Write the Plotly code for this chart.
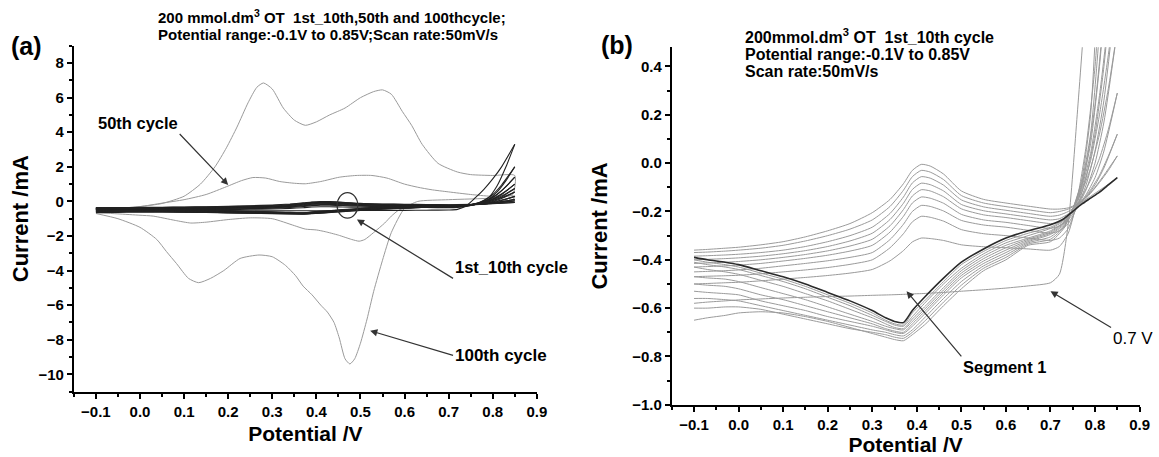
import plotly.graph_objects as go

# ---------------- Panel (a) data ----------------
c100_V = [-0.1, -0.05, 0.0, 0.05, 0.1, 0.137, 0.17, 0.196, 0.22, 0.245, 0.265, 0.28, 0.3, 0.325, 0.35, 0.375,
          0.4, 0.43, 0.465, 0.5, 0.53, 0.55, 0.57, 0.595, 0.616, 0.64, 0.676, 0.72, 0.75, 0.8, 0.85,
          0.845, 0.8, 0.7, 0.63, 0.6, 0.57, 0.55, 0.53, 0.515, 0.5, 0.487, 0.476, 0.465, 0.452, 0.44,
          0.425, 0.41, 0.39, 0.37, 0.353, 0.33, 0.3, 0.27, 0.227, 0.19, 0.16, 0.133, 0.11, 0.083, 0.06,
          0.038, 0.0, -0.05, -0.1]
c100_I = [-0.5, -0.4, -0.3, -0.12, 0.3, 1.0, 2.0, 3.1, 4.3, 5.7, 6.6, 6.85, 6.5, 5.4, 4.7, 4.4,
          4.6, 5.0, 5.4, 6.0, 6.35, 6.45, 6.2, 5.2, 4.4, 3.3, 2.2, 1.7, 1.55, 1.5, 1.5,
          0.4, 0.2, 0.1, 0.0, -0.4, -1.8, -3.4, -5.2, -6.8, -8.2, -9.1, -9.4, -9.1, -7.9, -7.0,
          -6.4, -6.0, -5.4, -4.9, -4.3, -3.7, -3.2, -3.1, -3.3, -4.0, -4.45, -4.7, -4.45, -3.6, -2.9,
          -2.2, -1.5, -1.0, -0.7]

c50_V = [-0.1, -0.05, 0.0, 0.05, 0.1, 0.15, 0.196, 0.23, 0.256, 0.285, 0.317, 0.35, 0.375, 0.41, 0.452,
         0.49, 0.526, 0.56, 0.6, 0.63, 0.66, 0.7, 0.75, 0.795, 0.85,
         0.84, 0.8, 0.75, 0.7, 0.65, 0.6, 0.587, 0.57, 0.555, 0.53, 0.51, 0.497, 0.48, 0.45, 0.42, 0.4,
         0.375, 0.35, 0.3, 0.25, 0.2, 0.15, 0.115, 0.08, 0.03, 0.0, -0.05, -0.1]
c50_I = [-0.45, -0.4, -0.3, -0.1, 0.1, 0.4, 0.85, 1.2, 1.38, 1.35, 1.15, 1.05, 1.02, 1.15, 1.4,
         1.5, 1.5, 1.35, 1.0, 0.82, 0.68, 0.55, 0.4, 0.3, 0.3,
         0.0, -0.1, -0.15, -0.2, -0.3, -0.4, -0.5, -0.85, -1.25, -1.8, -2.2, -2.3, -2.2, -1.95, -1.75, -1.65,
         -1.6, -1.4, -1.0, -0.95, -1.05, -1.2, -1.25, -1.1, -0.85, -0.8, -0.72, -0.65]

# ---------------- 1st-10th cycles (panel b, also drawn in panel a) ----------------
fwd_V = [-0.1, -0.07, -0.03, 0.0, 0.05, 0.1, 0.15, 0.2, 0.25, 0.3, 0.34, 0.37, 0.39, 0.41, 0.43, 0.46,
         0.5, 0.55, 0.6, 0.65, 0.7, 0.72, 0.74, 0.76, 0.78, 0.8, 0.82, 0.85]
rev_V = [0.85, 0.83, 0.81, 0.79, 0.77, 0.75, 0.73, 0.7, 0.65, 0.6, 0.55, 0.5, 0.46, 0.42, 0.39, 0.37,
         0.35, 0.33, 0.3, 0.25, 0.2, 0.15, 0.1, 0.05, 0.0, -0.03, -0.07, -0.1]

segment1_I = [-0.58, -0.575, -0.57, -0.566, -0.562, -0.558, -0.555, -0.552, -0.55, -0.547, -0.545, -0.543,
              -0.541, -0.54, -0.538, -0.535, -0.53, -0.524, -0.517, -0.508, -0.495,
              -0.46, -0.25, 0.2, 0.7, 1.3, 2.0, 3.3]
fwd_cycle2_I = [-0.50, -0.498, -0.495, -0.493, -0.487, -0.48, -0.473, -0.465, -0.455, -0.44, -0.404, -0.362,
                -0.326, -0.31, -0.312, -0.32, -0.338, -0.346, -0.35, -0.355, -0.36,
                -0.345, -0.29, -0.15, 0.07, 0.4, 0.95, 2.0]
fwd_cycle3_I = [-0.47, -0.468, -0.466, -0.464, -0.458, -0.45, -0.442, -0.432, -0.419, -0.40, -0.35, -0.292,
                -0.243, -0.22, -0.224, -0.24, -0.275, -0.292, -0.30, -0.31, -0.32,
                -0.31, -0.27, -0.17, -0.01, 0.24, 0.62, 1.4]
fwd_cycle4_I = [-0.45, -0.448, -0.445, -0.442, -0.435, -0.425, -0.415, -0.404, -0.39, -0.37, -0.316, -0.253,
                -0.2, -0.175, -0.179, -0.198, -0.237, -0.256, -0.265, -0.278, -0.29,
                -0.28, -0.25, -0.18, -0.06, 0.12, 0.4, 1.0]
fwd_cycle5_I = [-0.43, -0.428, -0.425, -0.422, -0.415, -0.405, -0.394, -0.381, -0.364, -0.34, -0.285, -0.22,
                -0.165, -0.14, -0.145, -0.166, -0.212, -0.235, -0.245, -0.258, -0.27,
                -0.26, -0.235, -0.18, -0.09, 0.05, 0.26, 0.75]
fwd_cycle6_I = [-0.415, -0.413, -0.41, -0.407, -0.4, -0.39, -0.378, -0.363, -0.343, -0.315, -0.259, -0.192,
                -0.136, -0.11, -0.115, -0.139, -0.189, -0.214, -0.225, -0.238, -0.25,
                -0.245, -0.22, -0.18, -0.11, 0.0, 0.17, 0.55]
fwd_cycle7_I = [-0.40, -0.398, -0.395, -0.392, -0.385, -0.375, -0.362, -0.345, -0.322, -0.29, -0.233, -0.166,
                -0.109, -0.083, -0.089, -0.115, -0.171, -0.197, -0.21, -0.223, -0.235,
                -0.23, -0.21, -0.18, -0.13, -0.06, 0.05, 0.29]
fwd_cycle8_I = [-0.385, -0.383, -0.38, -0.377, -0.37, -0.36, -0.345, -0.325, -0.3, -0.265, -0.208, -0.14,
                -0.082, -0.056, -0.062, -0.091, -0.152, -0.181, -0.195, -0.208, -0.22,
                -0.215, -0.2, -0.175, -0.14, -0.09, -0.02, 0.12]
fwd_cycle9_I = [-0.37, -0.368, -0.364, -0.36, -0.352, -0.34, -0.322, -0.3, -0.273, -0.235, -0.179, -0.112,
                -0.056, -0.03, -0.037, -0.068, -0.134, -0.165, -0.18, -0.193, -0.205,
                -0.2, -0.19, -0.17, -0.14, -0.1, -0.05, 0.03]
fwd_cycle10_I = [-0.36, -0.357, -0.352, -0.348, -0.338, -0.325, -0.305, -0.28, -0.25, -0.205, -0.15, -0.085,
                 -0.03, -0.005, -0.012, -0.045, -0.115, -0.15, -0.165, -0.178, -0.19,
                 -0.19, -0.185, -0.17, -0.15, -0.125, -0.1, -0.06]

rev_cycle1_I = [3.3, 2.0, 0.9, 0.2, -0.07, -0.19, -0.27, -0.325, -0.34, -0.40, -0.445, -0.52, -0.59, -0.665,
                -0.71, -0.735, -0.73, -0.72, -0.705, -0.68, -0.655, -0.635, -0.62, -0.615, -0.62, -0.63, -0.64, -0.65]
rev_cycle2_I = [2.0, 1.2, 0.55, 0.12, -0.08, -0.19, -0.265, -0.315, -0.335, -0.39, -0.435, -0.505, -0.575, -0.65,
                -0.70, -0.725, -0.72, -0.71, -0.70, -0.685, -0.665, -0.645, -0.625, -0.605, -0.595, -0.595, -0.60, -0.60]
rev_cycle3_I = [1.4, 0.85, 0.4, 0.08, -0.09, -0.19, -0.26, -0.305, -0.33, -0.38, -0.425, -0.49, -0.56, -0.635,
                -0.69, -0.715, -0.71, -0.70, -0.69, -0.67, -0.65, -0.63, -0.61, -0.59, -0.57, -0.565, -0.56, -0.56]
rev_cycle4_I = [1.0, 0.6, 0.28, 0.04, -0.1, -0.19, -0.255, -0.295, -0.325, -0.37, -0.415, -0.475, -0.545, -0.62,
                -0.675, -0.705, -0.70, -0.69, -0.675, -0.655, -0.635, -0.61, -0.59, -0.57, -0.545, -0.54, -0.535, -0.53]
rev_cycle5_I = [0.75, 0.45, 0.2, 0.01, -0.11, -0.19, -0.25, -0.29, -0.32, -0.36, -0.405, -0.465, -0.535, -0.61,
                -0.665, -0.70, -0.695, -0.685, -0.665, -0.64, -0.615, -0.59, -0.565, -0.545, -0.52, -0.51, -0.505, -0.50]
rev_cycle6_I = [0.55, 0.31, 0.12, -0.02, -0.12, -0.19, -0.245, -0.285, -0.315, -0.35, -0.395, -0.455, -0.525, -0.60,
                -0.655, -0.69, -0.685, -0.675, -0.655, -0.625, -0.595, -0.565, -0.54, -0.515, -0.49, -0.48, -0.475, -0.47]
rev_cycle7_I = [0.29, 0.14, 0.02, -0.07, -0.14, -0.2, -0.245, -0.28, -0.31, -0.34, -0.385, -0.445, -0.515, -0.59,
                -0.645, -0.685, -0.68, -0.665, -0.64, -0.605, -0.57, -0.54, -0.51, -0.485, -0.46, -0.45, -0.44, -0.43]
rev_cycle8_I = [0.12, 0.03, -0.05, -0.11, -0.16, -0.205, -0.24, -0.27, -0.30, -0.33, -0.375, -0.435, -0.50, -0.575,
                -0.635, -0.675, -0.67, -0.655, -0.63, -0.59, -0.555, -0.52, -0.49, -0.465, -0.44, -0.43, -0.42, -0.41]
rev_cycle9_I = [0.03, -0.03, -0.08, -0.125, -0.165, -0.2, -0.235, -0.265, -0.29, -0.32, -0.365, -0.42, -0.49, -0.565,
                -0.62, -0.67, -0.665, -0.65, -0.62, -0.58, -0.545, -0.51, -0.48, -0.455, -0.43, -0.42, -0.41, -0.40]
rev_cycle10_I = [-0.06, -0.09, -0.12, -0.145, -0.17, -0.2, -0.23, -0.255, -0.28, -0.31, -0.355, -0.41, -0.476, -0.55,
                 -0.61, -0.66, -0.655, -0.64, -0.61, -0.57, -0.535, -0.5, -0.47, -0.445, -0.42, -0.41, -0.40, -0.39]

forward_sweeps = [segment1_I, fwd_cycle2_I, fwd_cycle3_I, fwd_cycle4_I, fwd_cycle5_I, fwd_cycle6_I,
                  fwd_cycle7_I, fwd_cycle8_I, fwd_cycle9_I, fwd_cycle10_I]
reverse_sweeps = [rev_cycle1_I, rev_cycle2_I, rev_cycle3_I, rev_cycle4_I, rev_cycle5_I, rev_cycle6_I,
                  rev_cycle7_I, rev_cycle8_I, rev_cycle9_I, rev_cycle10_I]

# tick values
x_ticks = [-0.1, 0.0, 0.1, 0.2, 0.3, 0.4, 0.5, 0.6, 0.7, 0.8, 0.9]
ya_ticks = [-10, -8, -6, -4, -2, 0, 2, 4, 6, 8]
yb_ticks = [-1.0, -0.8, -0.6, -0.4, -0.2, 0.0, 0.2, 0.4]

FONT = "Liberation Sans, Arial, sans-serif"
W, H = 1159, 457

fig = go.Figure()

gray = "#9a9a9a"
# panel a: 100th and 50th
fig.add_trace(go.Scatter(x=c100_V, y=c100_I, mode="lines", xaxis="x", yaxis="y",
                         line=dict(color=gray, width=1, shape="spline", smoothing=0.6)))
fig.add_trace(go.Scatter(x=c50_V, y=c50_I, mode="lines", xaxis="x", yaxis="y",
                         line=dict(color=gray, width=1, shape="spline", smoothing=0.6)))
# panel a: 1st-10th (dark band)
for f, r in zip(forward_sweeps, reverse_sweeps):
    fig.add_trace(go.Scatter(x=fwd_V, y=f, mode="lines", xaxis="x", yaxis="y",
                             line=dict(color="#222222", width=1.1, shape="spline", smoothing=0.6)))
    fig.add_trace(go.Scatter(x=rev_V, y=r, mode="lines", xaxis="x", yaxis="y",
                             line=dict(color="#222222", width=1.1, shape="spline", smoothing=0.6)))

# panel b
for i, (f, r) in enumerate(zip(forward_sweeps, reverse_sweeps)):
    fig.add_trace(go.Scatter(x=fwd_V, y=f, mode="lines", xaxis="x2", yaxis="y2",
                             line=dict(color=gray, width=1, shape="spline", smoothing=0.6)))
    dark = (i == 9)
    fig.add_trace(go.Scatter(x=rev_V, y=r, mode="lines", xaxis="x2", yaxis="y2",
                             line=dict(color="#2a2a2a" if dark else gray, width=1.6 if dark else 1,
                                       shape="spline", smoothing=0.6)))

tickfont = dict(family=FONT, size=15, color="black", weight="bold")
xtitle_font = dict(family=FONT, size=21, color="black", weight="bold")
ytitle_font = dict(family=FONT, size=22, color="black", weight="bold")
common_x = dict(range=[-0.15, 0.9], tickvals=x_ticks, tickformat=".1f", showline=True, linecolor="black",
                linewidth=2, ticks="outside", ticklen=5, tickwidth=2, tickcolor="black", showgrid=False,
                zeroline=False, tickfont=tickfont,
                minor=dict(ticks="outside", ticklen=3, tickwidth=1.5, tickcolor="black", dtick=0.05,
                           tick0=0.0, showgrid=False))
fig.update_layout(
    width=W, height=H, margin=dict(l=0, r=0, t=0, b=0),
    paper_bgcolor="white", plot_bgcolor="white", showlegend=False,
    xaxis=dict(domain=[74.5 / W, 541.5 / W], anchor="y",
               title=dict(text="Potential /V", font=xtitle_font, standoff=8), **common_x),
    yaxis=dict(domain=[1 - 398.6 / H, 1 - 46.6 / H], anchor="x", range=[-11, 9], tickvals=ya_ticks,
               title=dict(text="Current /mA", font=ytitle_font, standoff=4),
               showline=True, linecolor="black", linewidth=2, ticks="outside", ticklen=5, tickwidth=2,
               tickcolor="black", showgrid=False, zeroline=False, tickfont=tickfont,
               minor=dict(ticks="outside", ticklen=3, tickwidth=1.5, tickcolor="black", dtick=1, tick0=0)),
    xaxis2=dict(domain=[677.6 / W, 1149.5 / W], anchor="y2",
                title=dict(text="Potential /V", font=xtitle_font, standoff=2), **common_x),
    yaxis2=dict(domain=[1 - 412 / H, 1 - 48 / H], anchor="x2", range=[-1.0, 0.48], tickvals=yb_ticks,
                title=dict(text="Current /mA", font=ytitle_font, standoff=18),
                tickformat=".1f", showline=True, linecolor="black", linewidth=2, ticks="outside",
                ticklen=5, tickwidth=2, tickcolor="black", showgrid=False, zeroline=False,
                tickfont=tickfont,
                minor=dict(ticks="outside", ticklen=3, tickwidth=1.5, tickcolor="black", dtick=0.1, tick0=0)),
)

ann = []


def ptext(x, y, text, size=15, bold=False, xanchor="left", angle=0):
    ann.append(dict(xref="paper", yref="paper", x=x / W, y=1 - y / H, text=text, showarrow=False,
                    xanchor=xanchor, yanchor="middle", textangle=angle,
                    font=dict(family=FONT, size=size, color="black", weight="bold" if bold else "normal")))


def arrow_label(xr, yr, text, hx, hy, tx, ty, xanchor, yanchor, size=16.5, bold=True):
    # text box corner sits at the arrow tail (tx, ty); arrow points to the head (hx, hy)
    ann.append(dict(xref=xr, yref=yr, x=hx, y=hy, ax=tx, ay=ty, axref=xr, ayref=yr, text=text,
                    showarrow=True, arrowhead=2, arrowsize=1.2, arrowwidth=1.2, arrowcolor="#333333",
                    xanchor=xanchor, yanchor=yanchor,
                    font=dict(family=FONT, size=size, color="black", weight="bold" if bold else "normal")))


# titles
ptext(157, 17, "200 mmol.dm<sup>3</sup> OT  1st_10th,50th and 100thcycle;", 15, bold=True)
ptext(157, 35, "Potential range:-0.1V to 0.85V;Scan rate:50mV/s", 15, bold=True)
ptext(749, 37, "200mmol.dm<sup>3</sup> OT  1st_10th cycle", 16, bold=True)
ptext(749, 55, "Potential range:-0.1V to 0.85V", 16, bold=True)
ptext(749, 73, "Scan rate:50mV/s", 16, bold=True)
ptext(9, 47, "(a)", 25, bold=True)
ptext(604, 46, "(b)", 25, bold=True)

# panel a labels with arrows
arrow_label("x", "y", "50th cycle", 0.2, 0.95, 0.09, 3.9, "right", "bottom")
arrow_label("x", "y", "1st_10th cycle", 0.492, -1.04, 0.71, -4.45, "left", "bottom")
arrow_label("x", "y", "100th cycle", 0.522, -7.48, 0.71, -8.9, "left", "middle", size=17)

# panel b labels with arrows
arrow_label("x2", "y2", "Segment 1", 0.377, -0.53, 0.50, -0.80, "left", "top")
arrow_label("x2", "y2", "0.7 V", 0.70, -0.53, 0.836, -0.68, "left", "top", size=17, bold=False)

fig.update_layout(annotations=ann)

# ellipse in panel a
fig.add_shape(type="circle", xref="x", yref="y", x0=0.447, x1=0.494, y0=-0.97, y1=0.51,
              line=dict(color="#333333", width=1.2))

fig.write_html("out.html")
